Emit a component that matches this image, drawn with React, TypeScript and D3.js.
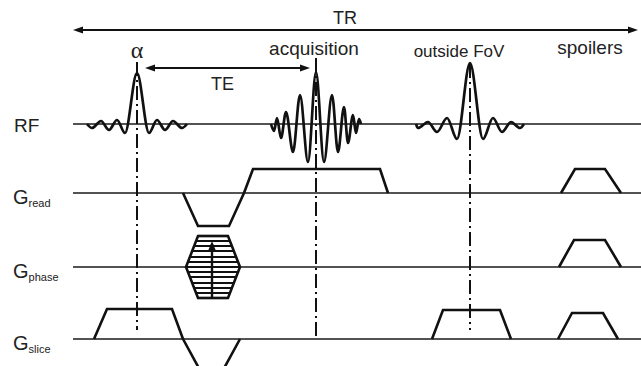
import React, { useEffect, useRef } from 'react';
import * as d3 from 'd3';

// time axis in arbitrary units, 0 = start of TR
const TR = 565;

// RF waveforms: extrema as [time, amplitude]
const alphaPulse: [number, number][] = [
    [14, 0], [19, -4], [28, 3], [36, -6], [44, 4], [52, -9], [64, 51],
    [76, -9], [84, 4], [92, -6], [100, 3], [109, -4], [114, 0]
];
const echoTimes = [198, 201, 204, 208, 213, 220, 227, 235, 243, 251, 259, 265, 271, 275, 280, 283, 286, 288];
const echoAmps = [0, -7, 6, -14, 12, -28, 29, -38, 52, -38, 29, -28, 17, -19, 9, -9, 5, 0];
const outsidePulse: [number, number][] = [
    [343, 0], [345, -4], [355, 2], [364, -8], [374, 6], [384, -15], [397, 61],
    [410, -15], [420, 6], [429, -8], [438, 2], [447, -4], [451, 0]
];

// gradient trapezoids: [rampStart, flatStart, flatEnd, rampEnd, amplitude]
const readGrad = [
    [110, 125, 156, 171, -33],
    [171, 180, 307, 315, 24],
    [488, 502, 532, 548, 24]
];
const phaseGrad = [
    [486, 501, 532, 548, 27]
];
const sliceGrad = [
    [21, 34, 99, 110, 30],
    [110, 128, 149, 167, -33],
    [359, 370, 427, 438, 29],
    [485, 499, 530, 545, 26]
];

// phase encoding table
const phaseTableTiming = [113, 125, 155, 167];
const phaseSteps = [31, 26, 21, 16, 10, 5, 0, -5, -10, -16, -21, -26, -31];

// alpha centre, echo centre, outside FoV pulse centre
const markerTimes = [64, 243, 397];
const teSpan = [72, 237];

const rowLabels = ['RF', 'read', 'phase', 'slice'];

const App = () => {
    const ref = useRef<SVGSVGElement | null>(null);

    useEffect(() => {
        if (!ref.current) return;
        const width = 641, height = 366;
        const sans = 'Liberation Sans, Arial, Helvetica, sans-serif';

        d3.select(ref.current).selectAll('*').remove();
        const svg = d3.select(ref.current)
            .attr('width', width)
            .attr('height', height)
            .attr('viewBox', `0 0 ${width} ${height}`);

        svg.append('rect').attr('width', width).attr('height', height).attr('fill', '#fff');

        const x = d3.scaleLinear().domain([0, TR]).range([73, 638]);
        const rowBase = [124, 193, 267, 339];
        const rowY = rowBase.map(b => d3.scaleLinear().domain([-60, 60]).range([b + 60, b - 60]));

        // baselines
        rowBase.forEach(b => {
            svg.append('line')
                .attr('x1', x(0)).attr('x2', x(TR + 3))
                .attr('y1', b).attr('y2', b)
                .attr('stroke', '#1a1a1a').attr('stroke-width', 1.7);
        });

        // row labels
        rowLabels.forEach((lab, i) => {
            const b = rowBase[i];
            if (i === 0) {
                svg.append('text').attr('x', 14).attr('y', b + 8)
                    .attr('font-family', sans).attr('font-size', 19).attr('fill', '#222')
                    .text(lab);
            } else {
                const t = svg.append('text').attr('x', 13).attr('y', b + 11)
                    .attr('font-family', sans).attr('fill', '#222');
                t.append('tspan').attr('font-size', 20).text('G');
                t.append('tspan').attr('font-size', 11).attr('dy', 3).text(lab);
            }
        });

        // dash-dot markers
        const markerTop = [62, 58, 64];
        const markerBottom = [330, 338, 330];
        markerTimes.forEach((t, i) => {
            svg.append('line')
                .attr('x1', x(t)).attr('x2', x(t))
                .attr('y1', markerTop[i]).attr('y2', markerBottom[i])
                .attr('stroke', '#111').attr('stroke-width', 2)
                .attr('stroke-dasharray', '14 4 2 4');
        });

        // RF waveforms
        const wave = d3.line<[number, number]>()
            .x(d => x(d[0]))
            .y(d => rowY[0](d[1]))
            .curve(d3.curveMonotoneX);
        const echo: [number, number][] = echoTimes.map((t, i) => [t, echoAmps[i]]);
        [alphaPulse, echo, outsidePulse].forEach(w => {
            svg.append('path').attr('d', wave(w))
                .attr('fill', 'none').attr('stroke', '#111')
                .attr('stroke-width', 2.7).attr('stroke-linejoin', 'round');
        });

        // gradient trapezoids
        const drawTrap = (rows: number[][], yScale: d3.ScaleLinear<number, number>) => {
            const line = d3.line<[number, number]>().x(d => x(d[0])).y(d => yScale(d[1]));
            rows.forEach(([t0, t1, t2, t3, a]) => {
                svg.append('path')
                    .attr('d', line([[t0, 0], [t1, a], [t2, a], [t3, 0]]))
                    .attr('fill', 'none').attr('stroke', '#111')
                    .attr('stroke-width', 2.6).attr('stroke-linejoin', 'miter');
            });
        };
        drawTrap(readGrad, rowY[1]);
        drawTrap(phaseGrad, rowY[2]);
        drawTrap(sliceGrad, rowY[3]);

        // phase encoding table
        const [p0, p1, p2, p3] = phaseTableTiming;
        const pMax = d3.max(phaseSteps) as number;
        const py = rowY[2];
        phaseSteps.forEach(s => {
            const f = Math.abs(s) / pMax;
            svg.append('line')
                .attr('x1', x(p0 + (p1 - p0) * f)).attr('x2', x(p3 - (p3 - p2) * f))
                .attr('y1', py(s)).attr('y2', py(s))
                .attr('stroke', '#111').attr('stroke-width', 2.2);
        });
        const hex: [number, number][] = [[p0, 0], [p1, pMax], [p2, pMax], [p3, 0], [p2, -pMax], [p1, -pMax]];
        svg.append('path')
            .attr('d', d3.line<[number, number]>().x(d => x(d[0])).y(d => py(d[1]))(hex) + 'Z')
            .attr('fill', 'none').attr('stroke', '#111').attr('stroke-width', 2.6);
        const ax = x((p1 + p2) / 2 - 1);
        svg.append('line')
            .attr('x1', ax).attr('x2', ax)
            .attr('y1', py(-pMax)).attr('y2', py(pMax - 8))
            .attr('stroke', '#111').attr('stroke-width', 2.4);
        svg.append('path')
            .attr('d', `M${ax},${py(pMax - 5)}L${ax - 4},${py(pMax - 15)}L${ax + 4},${py(pMax - 15)}Z`)
            .attr('fill', '#111');

        // double arrows
        const dblArrow = (xa: number, xb: number, y: number, w: number) => {
            svg.append('line').attr('x1', xa + 4).attr('x2', xb - 4).attr('y1', y).attr('y2', y)
                .attr('stroke', '#111').attr('stroke-width', w);
            svg.append('path').attr('d', `M${xa},${y}L${xa + 10},${y - 3.5}L${xa + 10},${y + 3.5}Z`).attr('fill', '#111');
            svg.append('path').attr('d', `M${xb},${y}L${xb - 10},${y - 3.5}L${xb - 10},${y + 3.5}Z`).attr('fill', '#111');
        };
        dblArrow(x(0), x(TR), 30, 1.8);
        dblArrow(x(teSpan[0]), x(teSpan[1]), 68, 1.8);

        // annotations
        const label = (txt: string, cx: number, y: number, size: number, font = sans) =>
            svg.append('text').attr('x', cx).attr('y', y)
                .attr('text-anchor', 'middle').attr('font-family', font)
                .attr('font-size', size).attr('fill', '#222').text(txt);
        label('TR', 345, 24, 18);
        label('α', x(markerTimes[0]), 58, 24, 'Liberation Serif, Times New Roman, serif');
        label('TE', x((teSpan[0] + teSpan[1]) / 2) - 5, 90, 18);
        label('acquisition', 314, 55, 19);
        label('outside FoV', 459, 57, 17);
        label('spoilers', 590, 54, 19);
    }, []);

    return <svg ref={ref} style={{ position: 'absolute', left: 0, top: 0, display: 'block' }} />;
};

export default App;
